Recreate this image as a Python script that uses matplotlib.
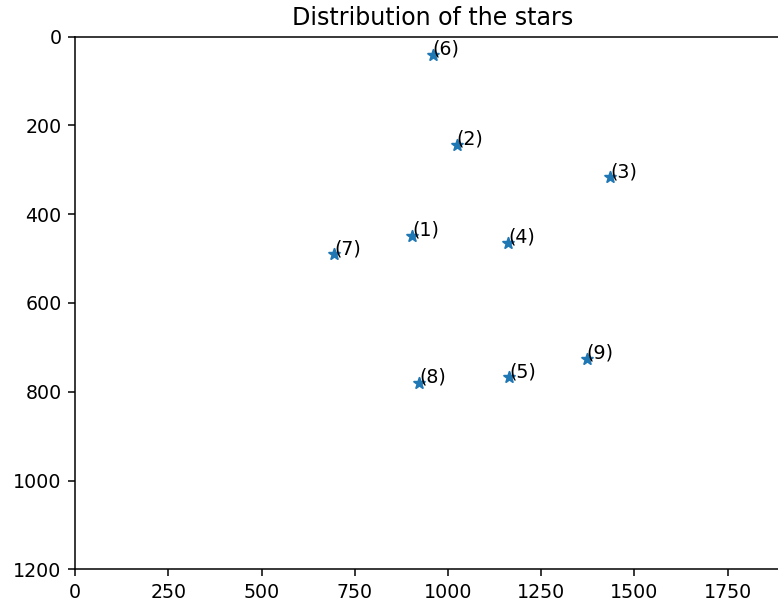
import matplotlib
matplotlib.use("Agg")
import matplotlib.pyplot as plt

labels = ["(1)", "(2)", "(3)", "(4)", "(5)", "(6)", "(7)", "(8)", "(9)"]
xs = [904, 1023, 1434, 1162, 1164, 959, 695, 923, 1372]
ys = [449, 244, 317, 464, 767, 41, 490, 780, 726]

DPI = 137
fig = plt.figure(figsize=(778 / DPI, 602 / DPI), dpi=DPI)
# the axes run past the right edge of the figure, as in the reference
ax = fig.add_axes([75 / 778, (602 - 569.3) / 602, 1920 * 0.373 / 778, 532.6 / 602])
ax.scatter(xs, ys, marker="*")
for lab, x, y in zip(labels, xs, ys):
    ax.text(x, y, lab)
ax.set_xlim(0, 1920)
ax.set_ylim(1200, 0)
ax.set_title("Distribution of the stars", fontsize=12.5)
fig.savefig("out.png", dpi=DPI)
